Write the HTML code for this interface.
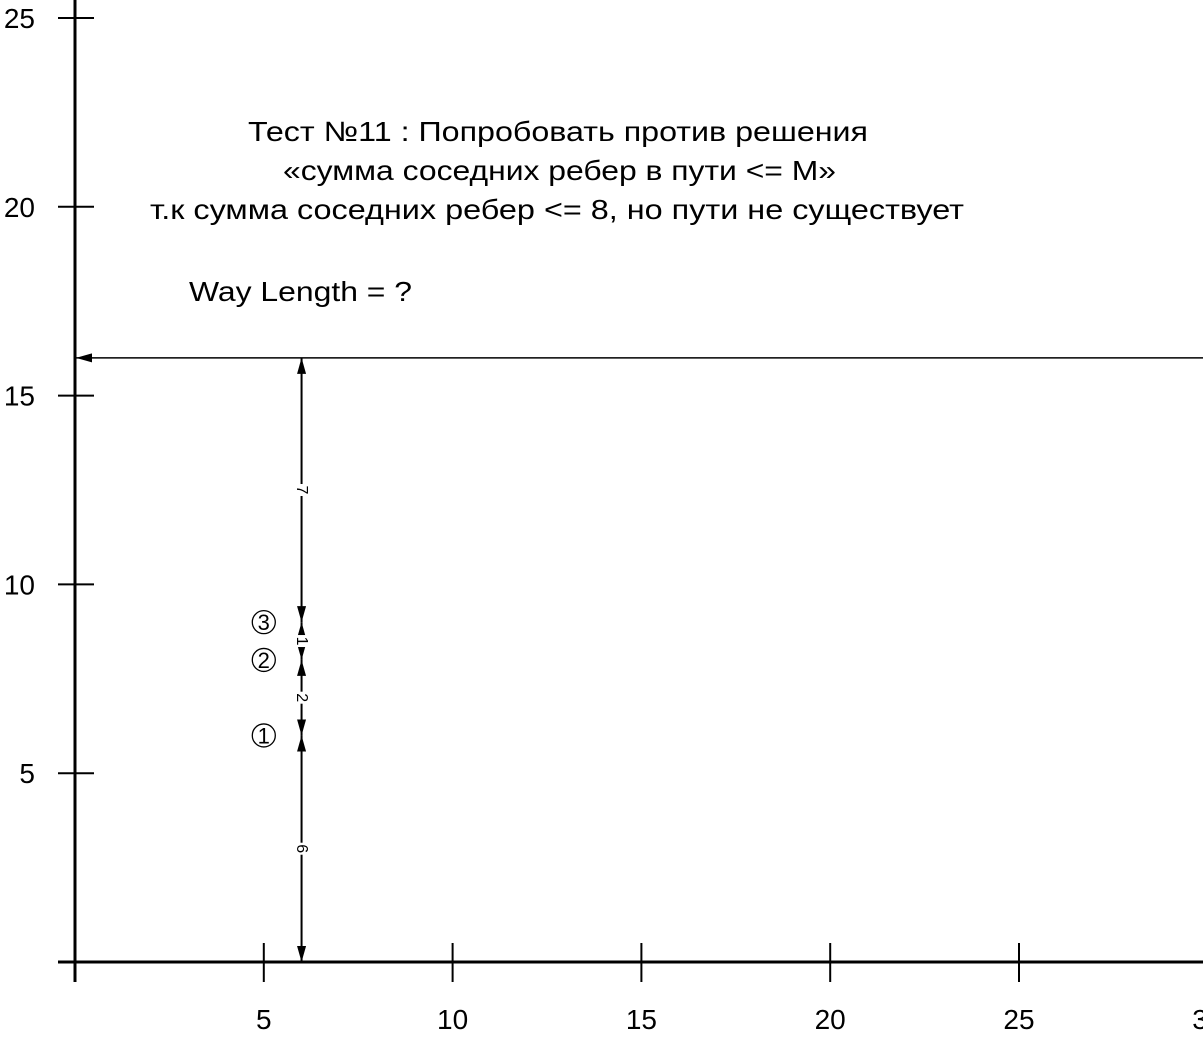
<!DOCTYPE html>
<html><head><meta charset="utf-8">
<style>
html,body{margin:0;padding:0;background:#fff;}
svg{display:block;font-family:"Liberation Sans",Arial,sans-serif;}
</style></head>
<body>
<svg id="chart" width="1203" height="1058" viewBox="0 0 1203 1058" xmlns="http://www.w3.org/2000/svg">
<defs>
<marker id="ah" markerWidth="16" markerHeight="9" refX="16" refY="4.5" orient="auto" markerUnits="userSpaceOnUse" viewBox="0 0 16 9">
<path d="M0,0 L16,4.5 L0,9 Z" fill="#000"/>
</marker>
</defs>
<text x="248" y="141" font-size="28" textLength="620" lengthAdjust="spacingAndGlyphs">Тест №11 : Попробовать против решения</text>
<text x="283" y="180" font-size="28" textLength="553" lengthAdjust="spacingAndGlyphs">«сумма соседних ребер в пути &lt;= M»</text>
<text x="150" y="219" font-size="28" textLength="814" lengthAdjust="spacingAndGlyphs">т.к сумма соседних ребер &lt;= 8, но пути не существует</text>
<text x="189" y="301" font-size="28" textLength="223" lengthAdjust="spacingAndGlyphs">Way Length = ?</text>
<g id="axes"></g>
<g id="marks"></g>
</svg>
<script>
const xTicks = [5, 10, 15, 20, 25, 30];
const yTicks = [5, 10, 15, 20, 25];
const pathX = 6;
const pathBreaks = [0, 6, 8, 9, 16];
const segLabels = ["6", "2", "1", "7"];
const nodeY = [6, 8, 9];
const nodeLabels = ["1", "2", "3"];
const horizY = 16;

const X0 = 75, Y0 = 962, S = 37.76;
const sx = v => X0 + v * S;
const sy = v => Y0 - v * S;
const NS = "http://www.w3.org/2000/svg";
function mk(tag, attrs, parent) {
  const e = document.createElementNS(NS, tag);
  for (const k in attrs) e.setAttribute(k, attrs[k]);
  parent.appendChild(e);
  return e;
}
const axes = document.getElementById('axes');
const marks = document.getElementById('marks');

let ax = mk('line', {x1: 58, y1: Y0, x2: 1203, y2: Y0, stroke: '#000', 'stroke-width': 3}, axes);


let ay = mk('line', {x1: X0, y1: 0, x2: X0, y2: 982, stroke: '#000', 'stroke-width': 3}, axes);



xTicks.forEach(v => {
  const t = mk('line', {x1: sx(v), y1: 943, x2: sx(v), y2: 982, stroke: '#000', 'stroke-width': 2}, axes);
  
  
  const l = mk('text', {x: sx(v), y: 1029, 'font-size': 28, 'text-anchor': 'middle'}, axes);
  l.textContent = v;
  
  
});
yTicks.forEach(v => {
  const t = mk('line', {x1: 58, y1: sy(v), x2: 94, y2: sy(v), stroke: '#000', 'stroke-width': 2}, axes);
  
  
  const l = mk('text', {x: 35, y: sy(v) + 10, 'font-size': 28, 'text-anchor': 'end'}, axes);
  l.textContent = v;
  
  
});

const h = mk('line', {x1: 1203, y1: sy(horizY), x2: X0 + 1, y2: sy(horizY), stroke: '#000', 'stroke-width': 1.5, 'marker-end': 'url(#ah)'}, marks);



for (let i = 0; i < pathBreaks.length - 1; i++) {
  const a = pathBreaks[i], b = pathBreaks[i + 1];
  const mid = (sy(a) + sy(b)) / 2;
  const g = mk('g', {}, marks);
  
  
  mk('line', {x1: sx(pathX), y1: mid, x2: sx(pathX), y2: sy(a), stroke: '#000', 'stroke-width': 2, 'marker-end': 'url(#ah)'}, g);
  mk('line', {x1: sx(pathX), y1: mid, x2: sx(pathX), y2: sy(b), stroke: '#000', 'stroke-width': 2, 'marker-end': 'url(#ah)'}, g);
  mk('rect', {x: sx(pathX) - 7, y: mid - 6, width: 14, height: 12, fill: '#fff'}, g);
  const t = mk('text', {x: sx(pathX), y: mid, 'font-size': 16, 'text-anchor': 'middle', 'dominant-baseline': 'central', transform: `rotate(90 ${sx(pathX)} ${mid})`}, g);
  t.textContent = segLabels[i];
  
  
}

nodeY.forEach((v, i) => {
  const g = mk('g', {}, marks);
  
  
  mk('circle', {cx: sx(5), cy: sy(v), r: 11.5, fill: 'none', stroke: '#000', 'stroke-width': 1.3}, g);
  const t = mk('text', {x: sx(5), y: sy(v) + 8, 'font-size': 22, 'text-anchor': 'middle'}, g);
  t.textContent = nodeLabels[i];
});
</script>
</body></html>
